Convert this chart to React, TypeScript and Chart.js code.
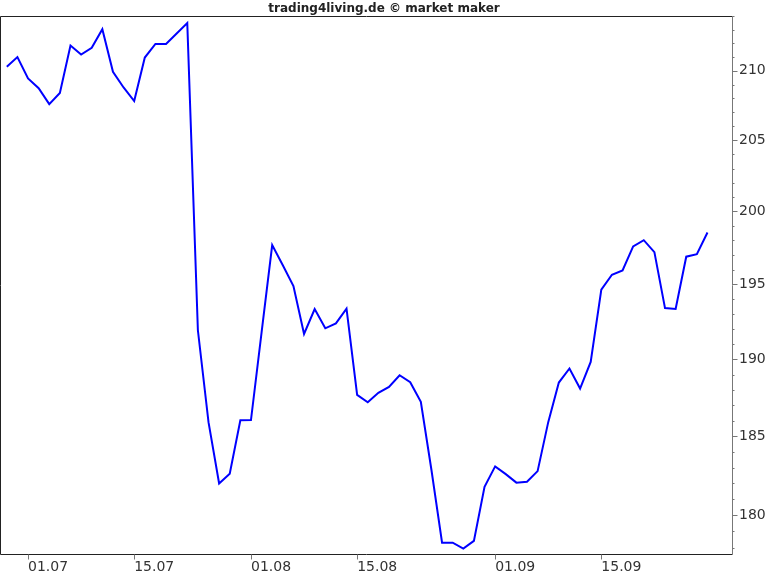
import { useEffect, useRef } from 'react';
import Chart from 'chart.js/auto';

// trading days, dd.mm
const dates = [
  '29.06', '30.06', '01.07', '04.07', '05.07', '06.07', '07.07', '08.07', '11.07', '12.07',
  '13.07', '14.07', '15.07', '18.07', '19.07', '20.07', '21.07', '22.07', '25.07', '26.07',
  '27.07', '28.07', '29.07', '01.08', '02.08', '03.08', '04.08', '05.08', '08.08', '09.08',
  '10.08', '11.08', '12.08', '15.08', '16.08', '17.08', '18.08', '19.08', '22.08', '23.08',
  '24.08', '25.08', '26.08', '29.08', '30.08', '31.08', '01.09', '02.09', '05.09', '06.09',
  '07.09', '08.09', '09.09', '12.09', '13.09', '14.09', '15.09', '16.09', '19.09', '20.09',
  '21.09', '22.09', '23.09', '26.09', '27.09', '28.09', '29.09',
];

const prices = [
  210.29, 211.0, 209.44, 208.74, 207.59, 208.39, 211.85, 211.19, 211.68, 213.05,
  209.93, 208.79, 207.81, 210.97, 211.97, 211.97, 212.73, 213.5, 191.93, 185.91,
  182.0, 182.61, 186.03, 186.04, 191.79, 197.68, 196.3, 194.89, 191.68, 193.35,
  192.06, 192.39, 193.37, 187.68, 187.2, 187.81, 188.2, 188.96, 188.5, 187.22,
  182.85, 178.3, 178.3, 177.93, 178.41, 181.79, 183.08, 182.59, 182.05, 182.11,
  182.78, 185.91, 188.48, 189.4, 188.09, 189.83, 194.65, 195.66, 195.95, 197.59,
  198.02, 197.2, 193.41, 193.35, 196.89, 197.06, 198.55,
];

const xTickLabels = ['01.07', '15.07', '01.08', '15.08', '01.09', '15.09'];
const yTickLabels = [180, 185, 190, 195, 200, 205, 210];

const FONT = '"DejaVu Sans", Verdana, sans-serif';

// frame + tick marks (major / minor)
const framePlugin = {
  id: 'frame',
  afterDraw(chart: any) {
    const { ctx, chartArea: a, scales } = chart;
    const xs = scales.x;
    const ys = scales.y;
    const top = Math.round(a.top) + 0.5;
    const bottom = Math.round(a.bottom) + 0.5;
    const left = Math.round(a.left) + 0.5;
    const right = Math.round(a.right) + 0.5;
    ctx.save();
    ctx.lineWidth = 1;

    ctx.strokeStyle = '#222';
    ctx.beginPath();
    ctx.moveTo(left, bottom);
    ctx.lineTo(left, top);
    ctx.lineTo(right, top);
    ctx.moveTo(left, bottom);
    ctx.lineTo(right, bottom);
    ctx.stroke();

    ctx.strokeStyle = '#777';
    ctx.beginPath();
    ctx.moveTo(right, top);
    ctx.lineTo(right, bottom);
    for (let v = Math.ceil(ys.min); v <= Math.floor(ys.max); v++) {
      const py = Math.round(ys.getPixelForValue(v)) + 0.5;
      const len = yTickLabels.includes(v) ? 5 : 2;
      ctx.moveTo(right, py);
      ctx.lineTo(right + len, py);
    }
    xTickLabels.forEach((lbl) => {
      const px = Math.round(xs.getPixelForValue(dates.indexOf(lbl))) + 0.5;
      ctx.moveTo(px, bottom);
      ctx.lineTo(px, bottom + 5);
    });
    ctx.stroke();
    ctx.restore();
  },
};

export default function App() {
  const canvasRef = useRef<HTMLCanvasElement>(null);
  const chartRef = useRef<Chart | null>(null);

  useEffect(() => {
    if (!canvasRef.current) return;
    if (chartRef.current) chartRef.current.destroy();

    chartRef.current = new Chart(canvasRef.current, {
      type: 'line',
      data: {
        datasets: [
          {
            data: prices.map((p, i) => ({ x: i, y: p })),
            borderColor: '#0000ff',
            borderWidth: 2,
            pointRadius: 0,
            tension: 0,
            fill: false,
          },
        ],
      },
      options: {
        animation: false,
        responsive: false,
        layout: { padding: 0 },
        plugins: {
          legend: { display: false },
          tooltip: { enabled: false },
          title: {
            display: true,
            text: 'trading4living.de © market maker',
            color: '#222',
            font: { family: FONT, size: 12, weight: 'bold' },
            padding: { top: 2, bottom: 0 },
          },
        },
        scales: {
          x: {
            type: 'linear',
            min: -0.64,
            max: 68.31,
            grid: { display: false, drawTicks: false },
            border: { display: false },
            afterBuildTicks: (scale: any) => {
              scale.ticks = xTickLabels.map((l) => ({ value: dates.indexOf(l) }));
            },
            afterFit: (scale: any) => {
              scale.height = 22;
            },
            ticks: {
              align: 'start',
              autoSkip: false,
              maxRotation: 0,
              padding: 5,
              color: '#333',
              font: { family: FONT, size: 14 },
              callback: (v: any) => dates[v] ?? '',
            },
          },
          y: {
            type: 'logarithmic',
            position: 'right',
            min: 177.6,
            max: 214,
            grid: { display: false, drawTicks: false },
            border: { display: false },
            afterBuildTicks: (scale: any) => {
              scale.ticks = yTickLabels.map((v) => ({ value: v }));
            },
            afterFit: (scale: any) => {
              scale.width = 36;
            },
            ticks: {
              autoSkip: false,
              padding: 7,
              color: '#333',
              font: { family: FONT, size: 14 },
              callback: (v: any) => String(v),
            },
          },
        },
      },
      plugins: [framePlugin],
    } as any);

    return () => {
      if (chartRef.current) {
        chartRef.current.destroy();
        chartRef.current = null;
      }
    };
  }, []);

  return (
    <div style={{ position: 'absolute', left: 0, top: 0, width: 768, height: 576, background: '#fff' }}>
      <canvas ref={canvasRef} width={768} height={576} style={{ display: 'block' }}></canvas>
    </div>
  );
}
